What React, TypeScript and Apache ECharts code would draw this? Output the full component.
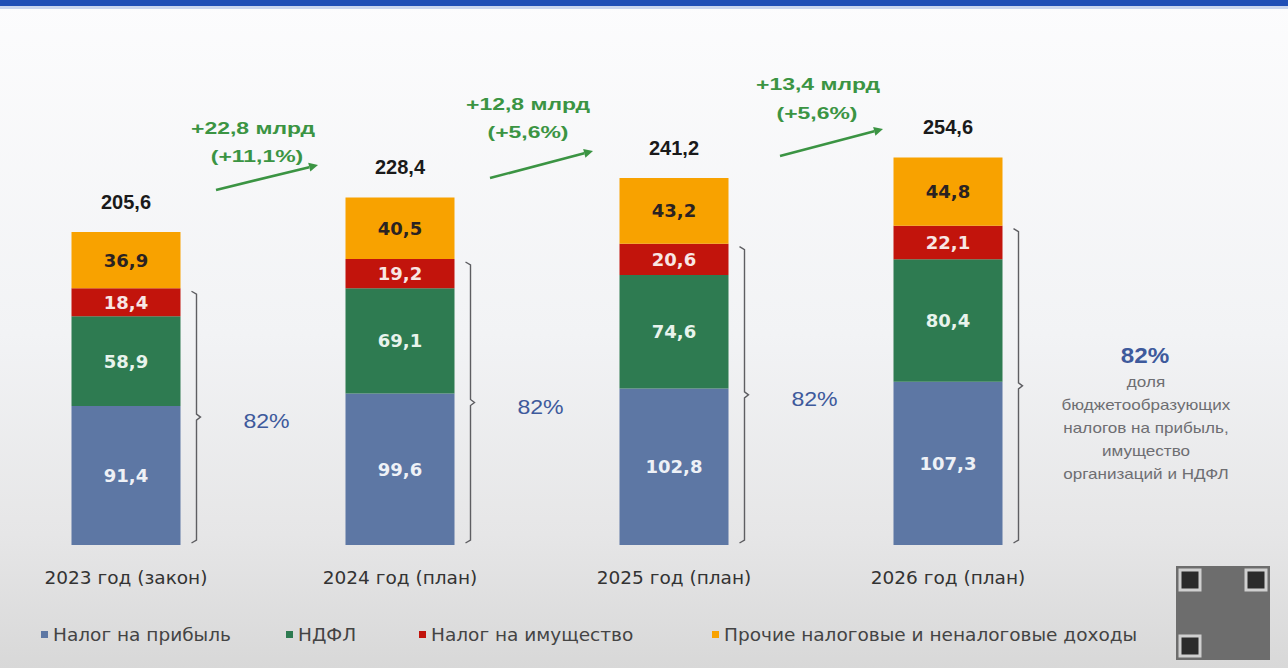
import React, { useEffect, useRef } from "react";
import * as echarts from "echarts";

const categories = ["2023 год (закон)", "2024 год (план)", "2025 год (план)", "2026 год (план)"];
const seriesNames = ["Налог на прибыль", "НДФЛ", "Налог на имущество", "Прочие налоговые и неналоговые доходы"];
const profitTax = [91.4, 99.6, 102.8, 107.3];
const ndfl = [58.9, 69.1, 74.6, 80.4];
const propertyTax = [18.4, 19.2, 20.6, 22.1];
const otherIncome = [36.9, 40.5, 43.2, 44.8];
const totals = [205.6, 228.4, 241.2, 254.6];
const shareLabels = ["82%", "82%", "82%", "82%"];
const growthAbs = ["+22,8 млрд", "+12,8 млрд", "+13,4 млрд"];
const growthPct = ["(+11,1%)", "(+5,6%)", "(+5,6%)"];
const shareNote = ["доля", "бюджетообразующих", "налогов на прибыль,", "имущество", "организаций и НДФЛ"];

const colors = ["#5d77a4", "#2e7b51", "#c2140c", "#f8a200"];
const labelColors = ["#eef1f6", "#e8f3ec", "#f8e6e4", "#2a2222"];
const GREEN = "#3b9443";
const BLUE_TXT = "#3e5a9c";

const fmt = (v: number) => v.toFixed(1).replace(".", ",");

function arrow(x1: number, y1: number, x2: number, y2: number, color: string) {
  const dx = x2 - x1, dy = y2 - y1;
  const len = Math.hypot(dx, dy);
  const ux = dx / len, uy = dy / len;
  const px = -uy, py = ux;
  const hl = 9, hw = 4.5;
  const bx = x2 - ux * hl, by = y2 - uy * hl;
  return [
    { type: "line", shape: { x1, y1, x2: bx, y2: by }, style: { stroke: color, lineWidth: 2.6 } },
    {
      type: "polygon",
      shape: { points: [[x2, y2], [bx + px * hw, by + py * hw], [bx - px * hw, by - py * hw]] },
      style: { fill: color },
    },
  ];
}

function gText(text: string, x: number, y: number, font: string, fill: string, scaleX = 1) {
  return {
    type: "text",
    x,
    y,
    scaleX,
    style: { text, font, fill, textAlign: "center", textVerticalAlign: "middle" },
  };
}

export default function App() {
  const ref = useRef<HTMLDivElement>(null);
  useEffect(() => {
    if (!ref.current) return;
    const chart = echarts.init(ref.current, null, { renderer: "svg" });
    const values = [profitTax, ndfl, propertyTax, otherIncome];

    const arrowPos = [
      [216, 190, 318, 165],
      [490, 178, 593, 151],
      [780, 156, 883, 129],
    ];
    const textPos = [
      [253, 128, 257, 156],
      [528, 104, 528, 132],
      [818, 84, 817, 113],
    ];
    const graphic: any[] = [
      { type: "rect", shape: { x: 0, y: 0, width: 1288, height: 6 }, style: { fill: "#1f4fb6" }, z: 10 },
      { type: "rect", shape: { x: 0, y: 6, width: 1288, height: 3 }, style: { fill: "#c9d6ee" }, z: 10 },
    ];
    growthAbs.forEach((t, i) => {
      graphic.push(...arrow(arrowPos[i][0], arrowPos[i][1], arrowPos[i][2], arrowPos[i][3], GREEN));
      graphic.push(gText(t, textPos[i][0], textPos[i][1], "bold 17px 'Liberation Sans'", GREEN, 1.35));
      graphic.push(gText(growthPct[i], textPos[i][2], textPos[i][3], "bold 17px 'Liberation Sans'", GREEN, 1.35));
    });
    graphic.push(gText(shareLabels[3], 1145, 355, "bold 22px 'Liberation Sans'", BLUE_TXT, 1.1));
    shareNote.forEach((t, i) => {
      graphic.push(gText(t, 1146, 382 + i * 23, "14px 'Liberation Sans'", "#6e6e72", 1.22));
    });
    // QR code placeholder
    graphic.push({ type: "rect", shape: { x: 1176, y: 566, width: 94, height: 94 }, style: { fill: "#6d6d6d" } });
    [[1180, 570], [1246, 570], [1180, 636]].forEach(([x, y]) => {
      graphic.push({ type: "rect", shape: { x, y, width: 20, height: 20 }, style: { fill: "#2b2b2b", stroke: "#cfcfcf", lineWidth: 3 } });
    });

    const legendLefts = [36, 281, 414, 707];

    chart.setOption({
      animation: false,
      backgroundColor: {
        type: "linear",
        x: 0,
        y: 0,
        x2: 0,
        y2: 1,
        colorStops: [
          { offset: 0, color: "#fcfcfd" },
          { offset: 0.5, color: "#f2f3f5" },
          { offset: 0.8, color: "#e6e6e7" },
          { offset: 1, color: "#d8d8d8" },
        ],
      },
      grid: { left: -11, width: 1096, top: 88.4, height: 456.6, containLabel: false, outerBoundsMode: "none" },
      xAxis: {
        type: "category",
        data: categories,
        axisLine: { show: false },
        axisTick: { show: false },
        axisLabel: { margin: 23, fontFamily: "DejaVu Sans", fontSize: 18.5, color: "#333" },
      },
      yAxis: { type: "value", min: 0, max: 300, show: false },
      legend: seriesNames.map((n, i) => ({
        data: [n],
        left: legendLefts[i],
        top: 620,
        icon: "rect",
        itemWidth: 7,
        itemHeight: 7,
        selectedMode: false,
        textStyle: { fontFamily: "DejaVu Sans", fontSize: 18.5, color: "#444" },
      })),
      series: [
        ...values.map((vals, i) => ({
          name: seriesNames[i],
          type: "bar",
          stack: "total",
          barWidth: 109,
          data: vals,
          itemStyle: { color: colors[i] },
          label: {
            show: true,
            position: "inside",
            formatter: (p: any) => fmt(p.value),
            fontFamily: "DejaVu Sans",
            fontWeight: "bold",
            fontSize: 18,
            color: labelColors[i],
          },
        })),
        {
          type: "custom",
          coordinateSystem: "cartesian2d",
          silent: true,
          z: 5,
          data: categories.map((_, i) => [i, profitTax[i] + ndfl[i] + propertyTax[i], totals[i]]),
          encode: { x: 0, y: 1 },
          renderItem: (params: any, api: any) => {
            const i = params.dataIndex;
            const top = api.coord([api.value(0), api.value(1)]);
            const base = api.coord([api.value(0), 0]);
            const tot = api.coord([api.value(0), api.value(2)]);
            const bx = top[0] + 54.5 + 16;
            const y1 = top[1] + 3, y2 = base[1] - 2, ym = (y1 + y2) / 2;
            const children: any[] = [
              {
                type: "polyline",
                shape: {
                  points: [
                    [bx - 5, y1], [bx, y1 + 3], [bx, ym - 3], [bx + 4, ym], [bx, ym + 3], [bx, y2 - 3], [bx - 5, y2],
                  ],
                },
                style: { stroke: "#5e5e62", lineWidth: 1.4, fill: "none" },
              },
              {
                type: "text",
                x: tot[0],
                y: tot[1] - 30,
                style: {
                  text: fmt(totals[i]),
                  font: "bold 20px 'Liberation Sans'",
                  fill: "#1a1a1a",
                  textAlign: "center",
                  textVerticalAlign: "middle",
                },
              },
            ];
            if (i < 3) {
              children.push({
                type: "text",
                x: bx + 70,
                y: ym + 4,
                scaleX: 1.1,
                style: {
                  text: shareLabels[i],
                  font: "21px 'Liberation Sans'",
                  fill: BLUE_TXT,
                  textAlign: "center",
                  textVerticalAlign: "middle",
                },
              });
            }
            return { type: "group", children };
          },
        },
      ],
      graphic,
    });
    return () => chart.dispose();
  }, []);
  return <div ref={ref} style={{ position: "fixed", left: 0, top: 0, width: 1288, height: 668 }} />;
}
